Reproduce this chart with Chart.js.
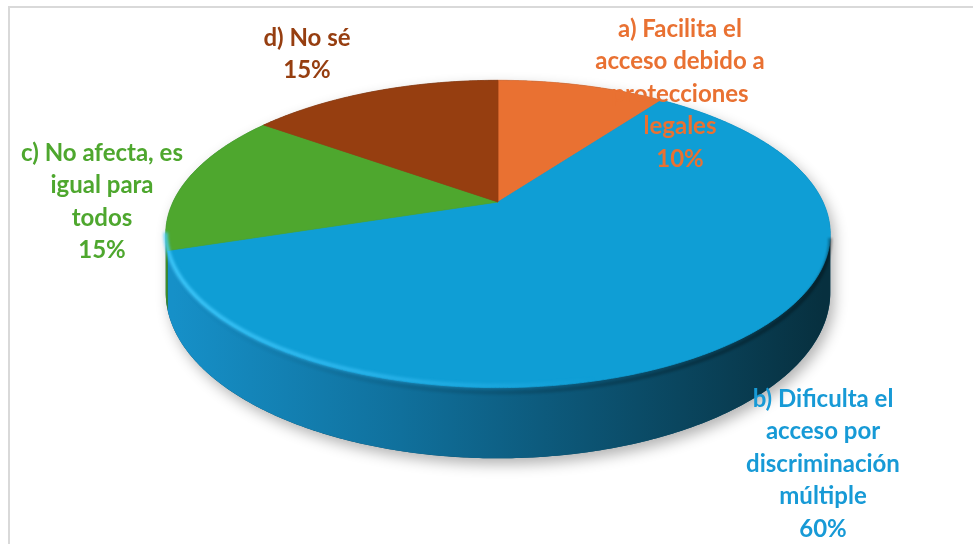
<!DOCTYPE html>
<html>
<head>
<meta charset="utf-8">
<script src="https://cdn.jsdelivr.net/npm/chart.js@4.4.1/dist/chart.umd.min.js"></script>
<style>
  html, body { margin: 0; padding: 0; background: #fff; }
  canvas { display: block; }
</style>
</head>
<body>
<canvas id="pieChart" width="973" height="544"></canvas>
<script>
// data
const categories = [
  ['a) Facilita el', 'acceso debido a', 'protecciones', 'legales'],
  ['b) Dificulta el', 'acceso por', 'discriminación', 'múltiple'],
  ['c) No afecta, es', 'igual para', 'todos'],
  ['d) No sé']
];
const shares = [10, 60, 15, 15];

// styles
const topColors  = ['#E97132', '#0F9ED5', '#4EA72E', '#963E10'];
const sideLeft   = ['#c85a22', '#1690c8', '#3f9024', '#7a320c'];
const sideRight  = ['#7a3a14', '#07303f', '#24521a', '#4a1f08'];
const textColors = ['#E97132', '#179AD6', '#4EA72E', '#963E10'];
const labelPos   = [[680, 29], [823, 399], [102, 153], [307, 38]];
const lineGap = 32.5;

// perspective of the tilted disc
const CX = 498, CY = 202, RX = 325, RY = 147, P = 0.208, DEPTH = 56;
function proj(t, drop) {
  const u = Math.sin(t), v = Math.cos(t), s = 1 / (1 + P * v);
  return [CX + RX * u * s, CY - RY * v * s + drop * DEPTH * s];
}
const T_RIGHT = Math.acos(-P), T_LEFT = 2 * Math.PI - T_RIGHT;

function edge(ctx, t1, t2, drop, first) {
  const n = Math.max(2, Math.ceil(Math.abs(t2 - t1) / 0.01));
  for (let i = 0; i <= n; i++) {
    const p = proj(t1 + (t2 - t1) * i / n, drop);
    if (i === 0 && first) ctx.moveTo(p[0], p[1]); else ctx.lineTo(p[0], p[1]);
  }
}

const pie3d = {
  id: 'pie3d',
  beforeDraw(chart) {
    const ctx = chart.ctx;
    ctx.save();
    ctx.strokeStyle = '#d9d9d9';
    ctx.lineWidth = 2;
    ctx.strokeRect(9, 7, 1200, 1200);
    ctx.restore();
  },
  beforeDatasetsDraw(chart) {
    const ctx = chart.ctx;
    const arcs = chart.getDatasetMeta(0).data;

    // soft shadow under the disc
    ctx.save();
    ctx.beginPath();
    edge(ctx, T_RIGHT, T_LEFT, 1, true);
    edge(ctx, T_LEFT, T_RIGHT + 2 * Math.PI, 0, false);
    ctx.closePath();
    ctx.shadowColor = 'rgba(0,0,0,0.3)';
    ctx.shadowBlur = 14;
    ctx.shadowOffsetX = 4;
    ctx.shadowOffsetY = 6;
    ctx.fillStyle = '#0b4a66';
    ctx.fill();
    ctx.restore();

    // front walls
    arcs.forEach((arc, i) => {
      const a1 = arc.startAngle + Math.PI / 2, a2 = arc.endAngle + Math.PI / 2;
      const t1 = Math.max(a1, T_RIGHT), t2 = Math.min(a2, T_LEFT);
      if (t2 <= t1) return;
      const g = ctx.createLinearGradient(CX - RX, 0, CX + RX, 0);
      g.addColorStop(0, sideLeft[i]);
      g.addColorStop(0.35, i === 1 ? '#10709c' : sideLeft[i]);
      g.addColorStop(1, sideRight[i]);
      ctx.beginPath();
      edge(ctx, t1, t2, 0, true);
      edge(ctx, t2, t1, 1, false);
      ctx.closePath();
      ctx.fillStyle = g;
      ctx.fill();
    });

    // top faces
    arcs.forEach((arc, i) => {
      const a1 = arc.startAngle + Math.PI / 2, a2 = arc.endAngle + Math.PI / 2;
      ctx.beginPath();
      ctx.moveTo(CX, CY);
      edge(ctx, a1, a2, 0, false);
      ctx.closePath();
      ctx.fillStyle = topColors[i];
      ctx.fill();
      ctx.strokeStyle = topColors[i];
      ctx.lineWidth = 0.8;
      ctx.stroke();
    });

    // bevel: dark under-rim on the right, light rim on the left
    ctx.save();
    ctx.beginPath();
    edge(ctx, T_RIGHT, T_LEFT, 0.07, true);
    const dk = ctx.createLinearGradient(CX - RX, 0, CX + RX, 0);
    dk.addColorStop(0, 'rgba(0,0,0,0)');
    dk.addColorStop(0.5, 'rgba(0,0,0,0.12)');
    dk.addColorStop(1, 'rgba(0,0,0,0.3)');
    ctx.strokeStyle = dk;
    ctx.lineWidth = 4;
    ctx.filter = 'blur(1px)';
    ctx.stroke();
    ctx.beginPath();
    edge(ctx, T_RIGHT, T_LEFT, -0.025, true);
    const lt = ctx.createLinearGradient(CX - RX, 0, CX + RX, 0);
    lt.addColorStop(0, 'rgba(70,205,255,0.85)');
    lt.addColorStop(0.3, 'rgba(60,195,250,0.6)');
    lt.addColorStop(0.65, 'rgba(60,195,250,0)');
    ctx.strokeStyle = lt;
    ctx.lineWidth = 4;
    ctx.filter = 'blur(1.5px)';
    ctx.stroke();
    ctx.restore();
    return false;
  },
  afterDraw(chart) {
    const ctx = chart.ctx;
    ctx.save();
    ctx.font = 'bold 24px Lato';
    ctx.textAlign = 'center';
    ctx.textBaseline = 'middle';
    categories.forEach((lines, i) => {
      const all = lines.concat([shares[i] + '%']);
      ctx.fillStyle = textColors[i];
      all.forEach((ln, k) => {
        ctx.fillText(ln, labelPos[i][0], labelPos[i][1] + k * lineGap);
      });
    });
    ctx.restore();
  }
};

new Chart(document.getElementById('pieChart').getContext('2d'), {
  type: 'pie',
  data: {
    labels: categories,
    datasets: [{ data: shares, backgroundColor: topColors, borderWidth: 0 }]
  },
  options: {
    responsive: false,
    animation: false,
    devicePixelRatio: 1,
    plugins: { legend: { display: false }, tooltip: { enabled: false } }
  },
  plugins: [pie3d]
});
</script>
</body>
</html>
